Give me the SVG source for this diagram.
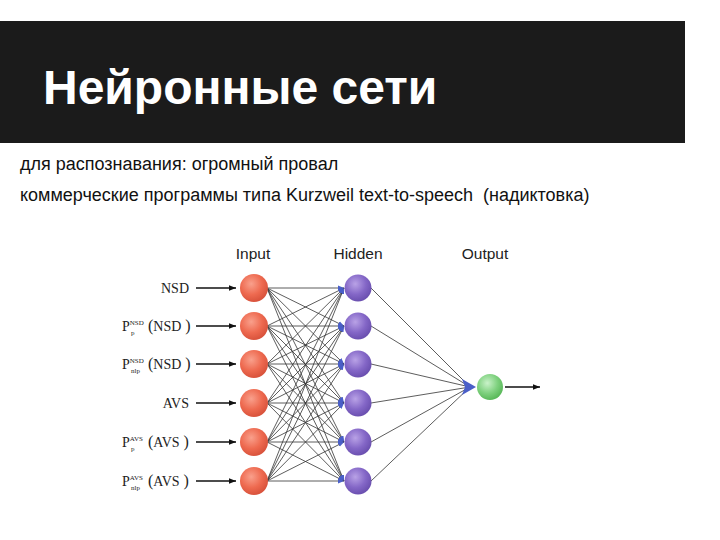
<svg xmlns="http://www.w3.org/2000/svg" width="720" height="540" viewBox="0 0 720 540">
<style>
.title{font-family:"Liberation Sans",Arial,sans-serif;font-weight:bold;font-size:48px;fill:#fff}
.body{font-family:"Liberation Sans",Arial,sans-serif;font-size:18px;fill:#111}
.layer{font-family:"Liberation Sans",Arial,sans-serif;font-size:15.5px;fill:#222;text-anchor:middle}
.lbl{font-family:"Liberation Serif","Times New Roman",serif;font-size:14px;fill:#222}
.sm{font-size:7px}
.par{font-size:16px}
.w{stroke:#333;stroke-width:0.8;fill:none}
.in{stroke:#111;stroke-width:1.3;fill:none}
</style>
<defs>
<radialGradient id="gr" cx="40%" cy="35%" r="65%"><stop offset="0" stop-color="#f9a08c"/><stop offset="0.6" stop-color="#ee6a50"/><stop offset="1" stop-color="#d9533c"/></radialGradient>
<radialGradient id="gp" cx="40%" cy="35%" r="65%"><stop offset="0" stop-color="#b9a2e6"/><stop offset="0.6" stop-color="#8467c7"/><stop offset="1" stop-color="#6b50b0"/></radialGradient>
<radialGradient id="gg" cx="40%" cy="35%" r="65%"><stop offset="0" stop-color="#c9f2c9"/><stop offset="0.6" stop-color="#7fd17f"/><stop offset="1" stop-color="#5ab95a"/></radialGradient>
<marker id="ab" viewBox="0 0 10 10" refX="10" refY="5" markerWidth="7" markerHeight="7" orient="auto" markerUnits="userSpaceOnUse"><path d="M0,1 L10,5 L0,9 z" fill="#111"/></marker>
<marker id="bb" viewBox="0 0 10 10" refX="10" refY="5" markerWidth="6" markerHeight="6" orient="auto" markerUnits="userSpaceOnUse"><path d="M0,1 L10,5 L0,9 z" fill="#4a5fc8"/></marker>
</defs>
<rect x="0" y="0" width="720" height="540" fill="#fff"/>
<rect x="0" y="21" width="685" height="122" fill="#1b1b1b"/>
<text class="title" x="43" y="104">Нейронные сети</text>
<text class="body" x="20" y="170">для распознавания: огромный провал</text>
<text class="body" x="20" y="201" xml:space="preserve">коммерческие программы типа Kurzweil text-to-speech  (надиктовка)</text>
<text class="layer" x="253" y="259">Input</text>
<text class="layer" x="358" y="259">Hidden</text>
<text class="layer" x="485" y="259">Output</text>
<g id="labels">
<text class="lbl" x="189" y="293" text-anchor="end">NSD</text>
<text class="lbl" x="122" y="331">P<tspan class="sm" dy="-6">NSD</tspan><tspan class="sm" x="131" dy="10">p</tspan><tspan class="par" x="148" dy="-4">(</tspan>NSD<tspan class="par"> )</tspan></text>
<text class="lbl" x="122" y="369">P<tspan class="sm" dy="-6">NSD</tspan><tspan class="sm" x="131" dy="10">nlp</tspan><tspan class="par" x="148" dy="-4">(</tspan>NSD<tspan class="par"> )</tspan></text>
<text class="lbl" x="189" y="408" text-anchor="end">AVS</text>
<text class="lbl" x="122" y="447">P<tspan class="sm" dy="-6">AVS</tspan><tspan class="sm" x="131" dy="10">p</tspan><tspan class="par" x="148" dy="-4">(</tspan>AVS<tspan class="par"> )</tspan></text>
<text class="lbl" x="122" y="486">P<tspan class="sm" dy="-6">AVS</tspan><tspan class="sm" x="131" dy="10">nlp</tspan><tspan class="par" x="148" dy="-4">(</tspan>AVS<tspan class="par"> )</tspan></text>
</g>
<g id="connectors">
<line class="in" x1="196" y1="288" x2="236" y2="288" marker-end="url(#ab)"/>
<line class="in" x1="196" y1="326" x2="236" y2="326" marker-end="url(#ab)"/>
<line class="in" x1="196" y1="364" x2="236" y2="364" marker-end="url(#ab)"/>
<line class="in" x1="196" y1="403" x2="236" y2="403" marker-end="url(#ab)"/>
<line class="in" x1="196" y1="442" x2="236" y2="442" marker-end="url(#ab)"/>
<line class="in" x1="196" y1="481" x2="236" y2="481" marker-end="url(#ab)"/>
<g marker-end="url(#bb)">
<line class="w" x1="267" y1="288" x2="344" y2="288"/><line class="w" x1="267" y1="288" x2="344" y2="326"/><line class="w" x1="267" y1="288" x2="344" y2="364"/><line class="w" x1="267" y1="288" x2="344" y2="403"/><line class="w" x1="267" y1="288" x2="344" y2="442"/><line class="w" x1="267" y1="288" x2="344" y2="481"/>
<line class="w" x1="267" y1="326" x2="344" y2="288"/><line class="w" x1="267" y1="326" x2="344" y2="326"/><line class="w" x1="267" y1="326" x2="344" y2="364"/><line class="w" x1="267" y1="326" x2="344" y2="403"/><line class="w" x1="267" y1="326" x2="344" y2="442"/><line class="w" x1="267" y1="326" x2="344" y2="481"/>
<line class="w" x1="267" y1="364" x2="344" y2="288"/><line class="w" x1="267" y1="364" x2="344" y2="326"/><line class="w" x1="267" y1="364" x2="344" y2="364"/><line class="w" x1="267" y1="364" x2="344" y2="403"/><line class="w" x1="267" y1="364" x2="344" y2="442"/><line class="w" x1="267" y1="364" x2="344" y2="481"/>
<line class="w" x1="267" y1="403" x2="344" y2="288"/><line class="w" x1="267" y1="403" x2="344" y2="326"/><line class="w" x1="267" y1="403" x2="344" y2="364"/><line class="w" x1="267" y1="403" x2="344" y2="403"/><line class="w" x1="267" y1="403" x2="344" y2="442"/><line class="w" x1="267" y1="403" x2="344" y2="481"/>
<line class="w" x1="267" y1="442" x2="344" y2="288"/><line class="w" x1="267" y1="442" x2="344" y2="326"/><line class="w" x1="267" y1="442" x2="344" y2="364"/><line class="w" x1="267" y1="442" x2="344" y2="403"/><line class="w" x1="267" y1="442" x2="344" y2="442"/><line class="w" x1="267" y1="442" x2="344" y2="481"/>
<line class="w" x1="267" y1="481" x2="344" y2="288"/><line class="w" x1="267" y1="481" x2="344" y2="326"/><line class="w" x1="267" y1="481" x2="344" y2="364"/><line class="w" x1="267" y1="481" x2="344" y2="403"/><line class="w" x1="267" y1="481" x2="344" y2="442"/><line class="w" x1="267" y1="481" x2="344" y2="481"/>
</g>
<g>
<line class="w" x1="371" y1="288" x2="470" y2="387"/><line class="w" x1="371" y1="326" x2="470" y2="387"/><line class="w" x1="371" y1="364" x2="470" y2="387"/><line class="w" x1="371" y1="403" x2="470" y2="387"/><line class="w" x1="371" y1="442" x2="470" y2="387"/><line class="w" x1="371" y1="481" x2="470" y2="387"/>
</g>
<path d="M462,379 L476,387 L462,395 L465,387 z" fill="#4a5fc8"/>
<line class="in" x1="505" y1="387" x2="540" y2="387" marker-end="url(#ab)"/>
</g>
<g id="input">
<circle id="i1" cx="254" cy="288" r="14" fill="url(#gr)"/>
<circle id="i2" cx="254" cy="326" r="14" fill="url(#gr)"/>
<circle id="i3" cx="254" cy="364" r="14" fill="url(#gr)"/>
<circle id="i4" cx="254" cy="403" r="14" fill="url(#gr)"/>
<circle id="i5" cx="254" cy="442" r="14" fill="url(#gr)"/>
<circle id="i6" cx="254" cy="481" r="14" fill="url(#gr)"/>
</g>
<g id="hidden">
<circle id="h1" cx="358" cy="288" r="13.5" fill="url(#gp)"/>
<circle id="h2" cx="358" cy="326" r="13.5" fill="url(#gp)"/>
<circle id="h3" cx="358" cy="364" r="13.5" fill="url(#gp)"/>
<circle id="h4" cx="358" cy="403" r="13.5" fill="url(#gp)"/>
<circle id="h5" cx="358" cy="442" r="13.5" fill="url(#gp)"/>
<circle id="h6" cx="358" cy="481" r="13.5" fill="url(#gp)"/>
</g>
<g id="output">
<circle id="o1" cx="490" cy="387" r="13" fill="url(#gg)"/>
</g>
</svg>
